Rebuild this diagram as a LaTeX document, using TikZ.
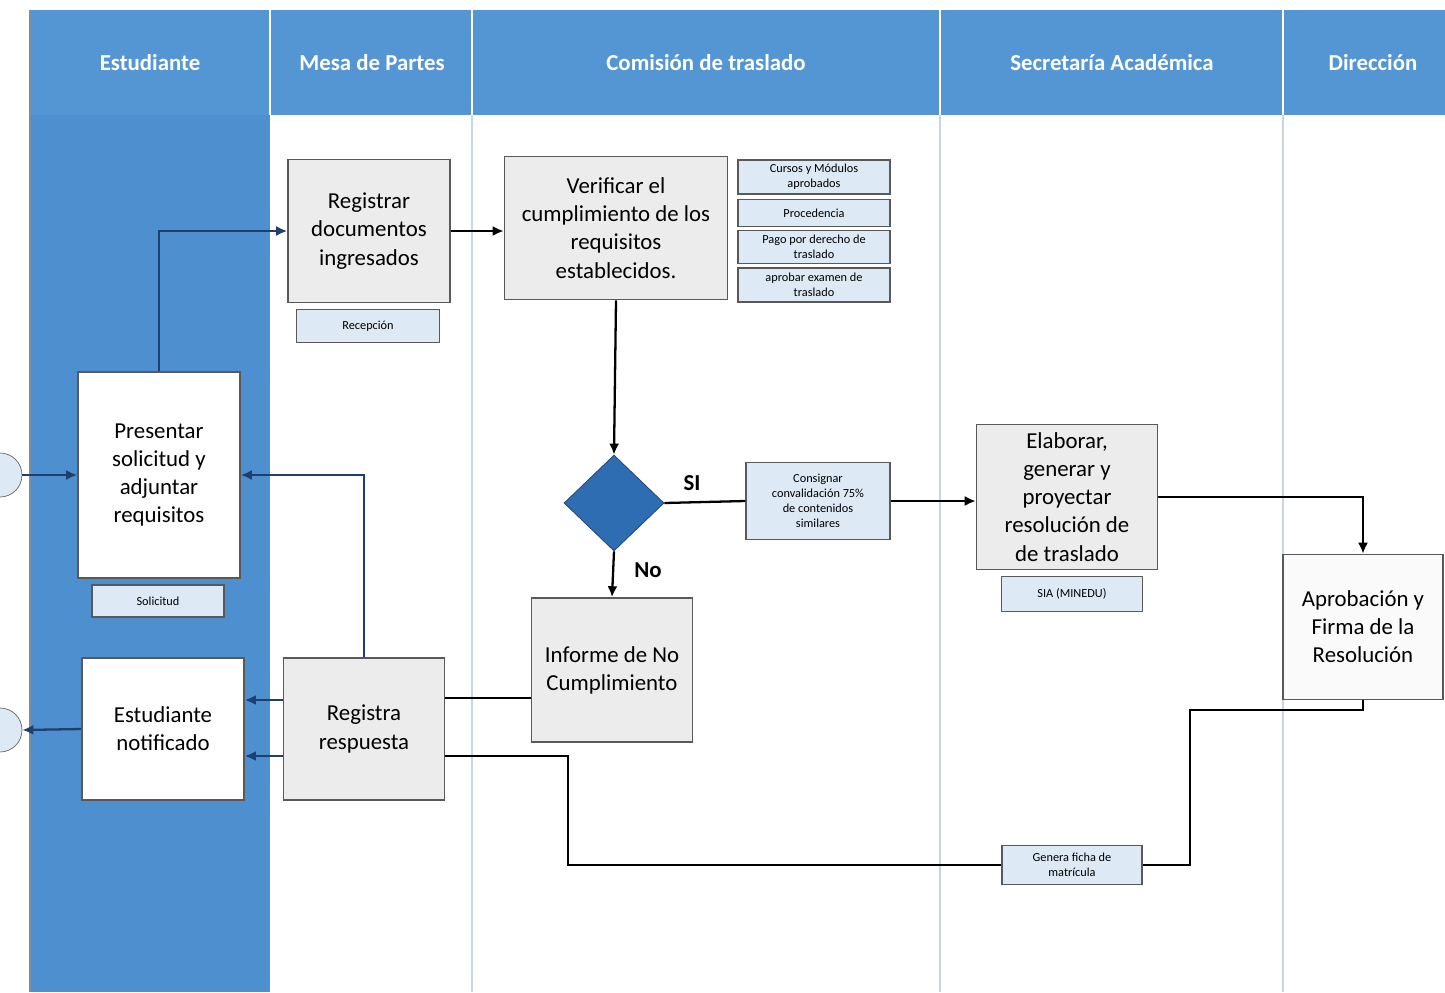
\documentclass[tikz,border=0pt]{standalone}
\usepackage{fontspec}
\setmainfont{Carlito}
\usetikzlibrary{shapes.geometric,arrows.meta,backgrounds}
\definecolor{laneblue}{RGB}{84,150,212}
\definecolor{colblue}{RGB}{78,143,208}
\definecolor{decblue}{RGB}{46,109,178}
\definecolor{tagfill}{RGB}{221,234,246}
\definecolor{boxgrey}{RGB}{236,236,236}
\definecolor{navy}{RGB}{31,63,110}
\definecolor{sepgrey}{RGB}{200,214,228}
\tikzset{
  task/.style={draw=black!65, line width=0.9pt, fill=boxgrey, align=center,
    font=\fontsize{13}{16}\selectfont, inner sep=2pt},
  taskw/.style={task, fill=white},
  tag/.style={draw=black!65, line width=0.8pt, fill=tagfill, align=center,
    font=\fontsize{7}{8.5}\selectfont, inner sep=1pt},
  decision/.style={diamond, draw=navy, fill=decblue, inner sep=0pt,
    minimum width=2cm, minimum height=1.92cm},
  event/.style={circle, draw=black!60, fill=tagfill, minimum size=0.88cm},
  lanehead/.style={text=white, font=\fontsize{13}{16}\selectfont\bfseries},
  link/.style={draw=black, line width=1.3pt},
  bluelink/.style={draw=navy, line width=1.3pt},
  arr/.style={-{Latex[length=2.2mm,width=2mm]}}
}
\begin{document}
\begin{tikzpicture}[x=0.02cm, y=-0.02cm]
  \useasboundingbox (0,0) rectangle (1445,992);
  \begin{scope}[on background layer]
    \clip (0,0) rectangle (1445,992);
    \fill[white] (0,0) rectangle (1445,992);
    \fill[laneblue] (30,10) rectangle (1445,115);
    \fill[colblue] (30,115) rectangle (270,992);
    \draw[navy!60, line width=1pt] (30,10) -- (30,992);
    \foreach \x in {472,940,1283} {
      \draw[sepgrey, line width=1pt] (\x,115) -- (\x,992);
    }
    \foreach \x in {270,472,940,1283} {
      \draw[white, line width=1.5pt] (\x,10) -- (\x,115);
    }
  \end{scope}
  \node[lanehead] (hest) at (150,63) {Estudiante};
  \node[lanehead] (hmes) at (372,63) {Mesa de Partes};
  \node[lanehead] (hcom) at (706,63) {Comisión de traslado};
  \node[lanehead] (hsec) at (1112,63) {Secretaría Académica};
  \node[lanehead] (hdir) at (1373,63) {Dirección};
  \begin{scope}
    \clip (0,0) rectangle (1445,992);
    \node[event] (start) at (0,475) {};
    \node[event] (end) at (0,730) {};
  \end{scope}

  \node[taskw, minimum width=3.24cm, minimum height=4.12cm] (pres) at (159,475)
    {Presentar\\solicitud y\\adjuntar\\requisitos};
  \node[tag, minimum width=2.64cm, minimum height=0.64cm] (sol) at (158,601) {Solicitud};
  \node[taskw, minimum width=3.24cm, minimum height=2.84cm] (notif) at (163,729)
    {Estudiante\\notificado};
  \node[task, minimum width=3.24cm, minimum height=2.86cm] (reg) at (369,231)
    {Registrar\\documentos\\ingresados};
  \node[tag, minimum width=2.86cm, minimum height=0.66cm] (recep) at (368,326) {Recepción};
  \node[task, minimum width=4.46cm, minimum height=2.86cm] (ver) at (616,228)
    {Verificar el\\cumplimiento de los\\requisitos\\establecidos.};
  \node[tag, minimum width=3.04cm, minimum height=0.68cm] (cur) at (814,177)
    {Cursos y Módulos\\aprobados};
  \node[tag, minimum width=3.04cm, minimum height=0.54cm] (proc) at (814,213) {Procedencia};
  \node[tag, minimum width=3.04cm, minimum height=0.66cm] (pago) at (814,247)
    {Pago por derecho de\\traslado};
  \node[tag, minimum width=3.04cm, minimum height=0.68cm] (exam) at (814,285)
    {aprobar examen de\\traslado};
  \node[decision] (dec) at (614,503) {};
  \node[font=\fontsize{13}{16}\selectfont\bfseries] (si) at (692,483) {SI};
  \node[font=\fontsize{13}{16}\selectfont\bfseries] (no) at (648,570) {No};
  \node[tag, minimum width=2.88cm, minimum height=1.54cm] (cons) at (818,501)
    {Consignar\\convalidación 75\%\\de contenidos\\similares};
  \node[task, minimum width=3.62cm, minimum height=2.9cm] (elab) at (1067,497)
    {Elaborar,\\generar y\\proyectar\\resolución de\\de traslado};
  \node[tag, minimum width=2.82cm, minimum height=0.7cm] (sia) at (1072,594) {SIA (MINEDU)};
  \node[taskw, fill=black!2, minimum width=3.2cm, minimum height=2.9cm] (apro) at (1363,627)
    {Aprobación y\\Firma de la\\Resolución};
  \node[task, minimum width=3.22cm, minimum height=2.88cm] (inf) at (612,670)
    {Informe de No\\Cumplimiento};
  \node[task, minimum width=3.22cm, minimum height=2.84cm] (resp) at (364,729)
    {Registra\\respuesta};
  \node[tag, minimum width=2.8cm, minimum height=0.78cm] (ficha) at (1072,865)
    {Genera ficha de\\matrícula};

  \coordinate (k1) at (1190,710);
  \coordinate (k2) at (568,756);

  \draw[bluelink, arr] (start) -- (pres);
  \draw[bluelink, arr] (pres.north) |- (reg.west);
  \draw[link, arr] (reg.east) -- (reg.east -| ver.west);
  \draw[link, arr] (ver.south) -- (dec.north);
  \draw[link] (dec.east) -- (cons.west);
  \draw[link, arr] (cons.east) -- (cons.east -| elab.west);
  \draw[link, arr] (elab.east) -| (apro.north);
  \draw[link, arr] (dec.south) -- (inf.north);
  \draw[link] ([yshift=-0.56cm]inf.west) -- ([yshift=-0.56cm]inf.west -| resp.east);
  \draw[bluelink, arr] (resp.north) |- (pres.east);
  \draw[bluelink, arr] ([yshift=0.58cm]resp.west) -- ([yshift=0.58cm]resp.west -| notif.east);
  \draw[bluelink, arr] (notif.west) -- (end.east);
  \draw[link] (apro.south) |- (k1) |- (ficha.east);
  \begin{scope}[on background layer]
    \draw[link] (ficha.west) -| (k2) -- (k2 -| resp.east);
  \end{scope}
  \draw[bluelink, arr] (k2 -| resp.west) -- (k2 -| notif.east);
\end{tikzpicture}
\end{document}
